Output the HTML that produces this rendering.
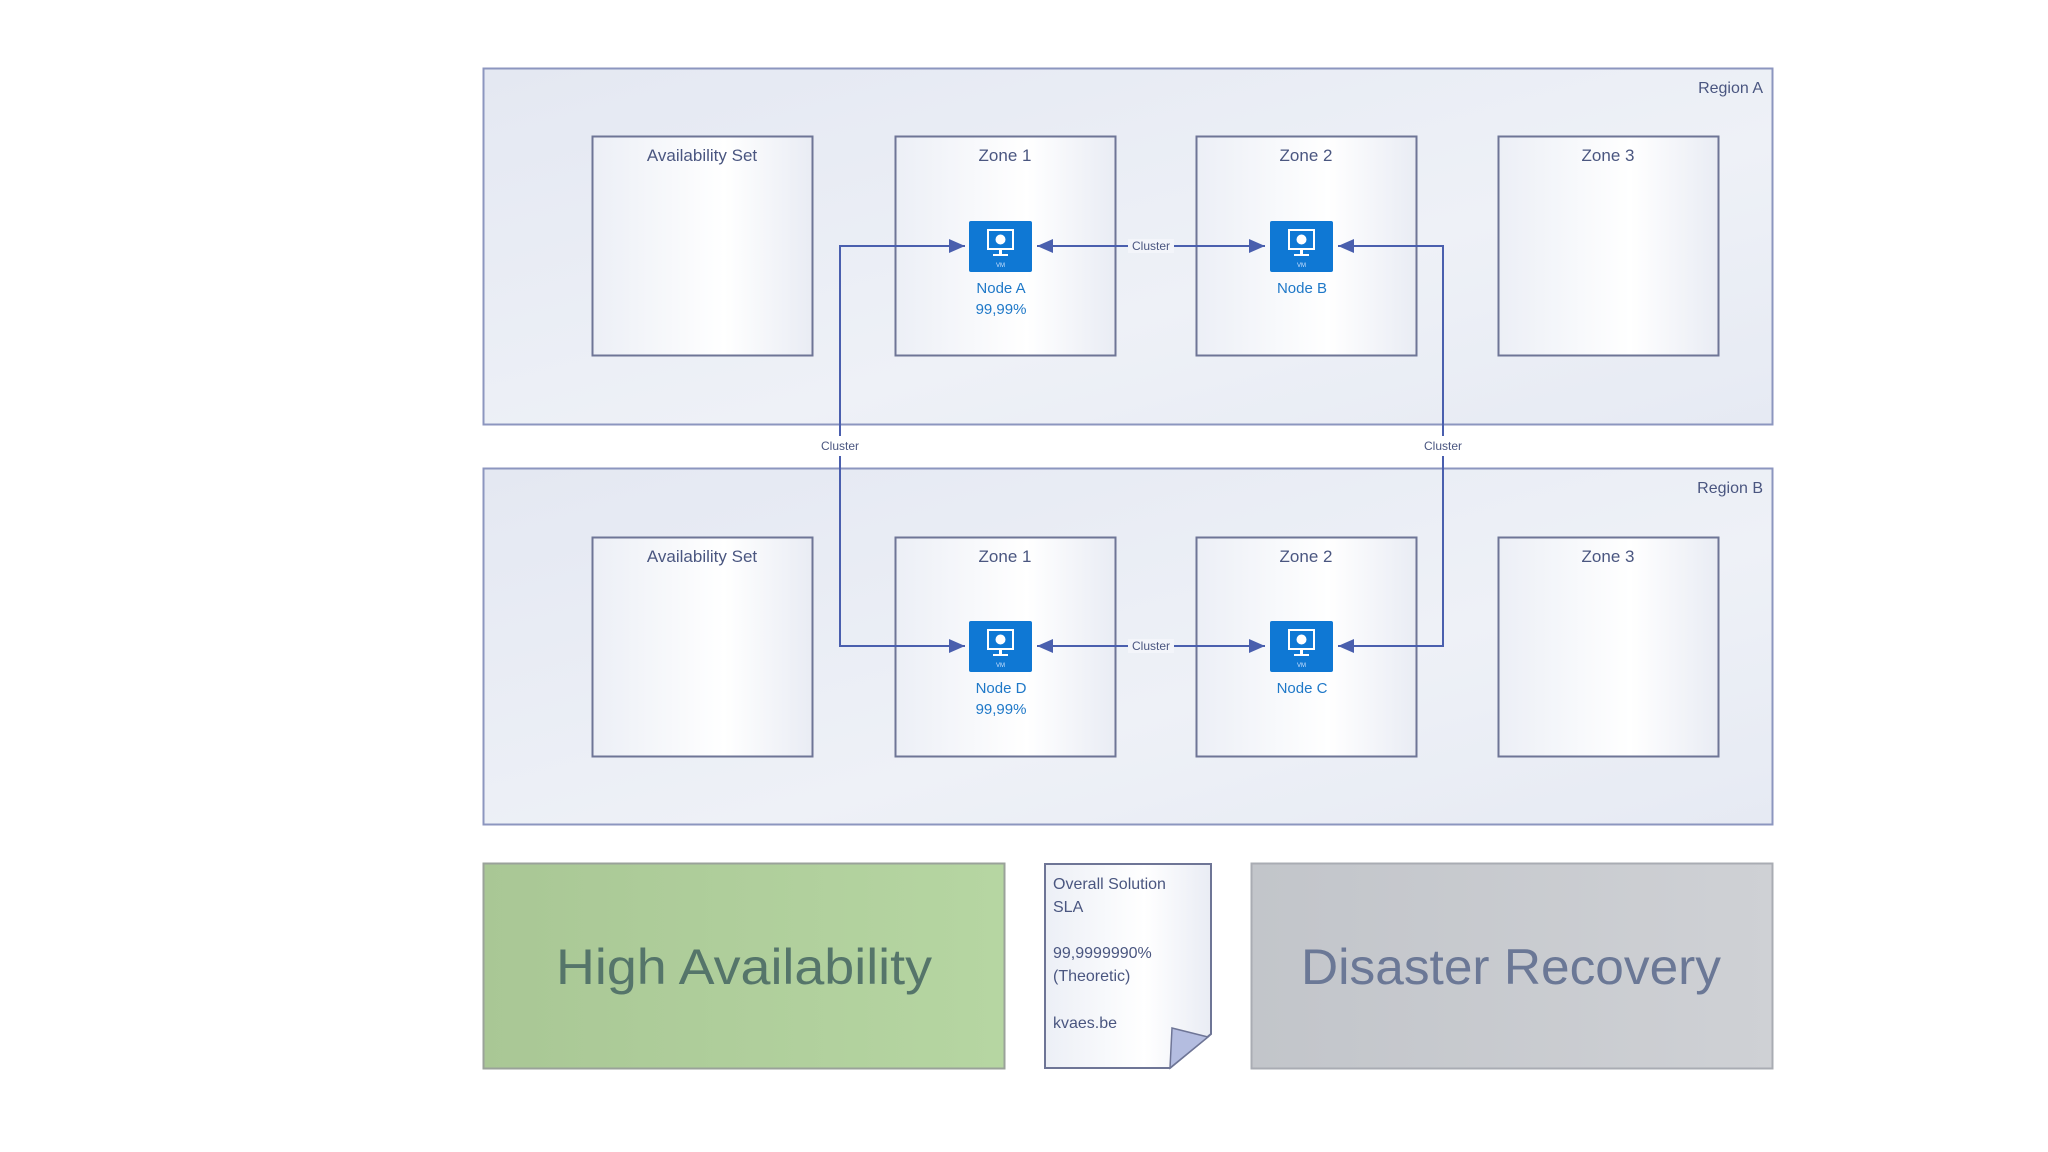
<!DOCTYPE html>
<html><head><meta charset="utf-8"><style>
html,body{margin:0;padding:0;background:#fff;width:2048px;height:1152px;overflow:hidden}
svg{display:block;font-family:"Liberation Sans",sans-serif}
</style></head><body>
<svg width="2048" height="1152" viewBox="0 0 2048 1152" xmlns="http://www.w3.org/2000/svg">
<defs>
<linearGradient id="reg" x1="0" y1="0" x2="1" y2="1">
<stop offset="0" stop-color="#e4e8f2"/><stop offset="0.6" stop-color="#eef1f7"/><stop offset="1" stop-color="#e6eaf3"/></linearGradient>
<linearGradient id="box" x1="0" y1="0" x2="1" y2="0">
<stop offset="0" stop-color="#eceff6"/><stop offset="0.6" stop-color="#ffffff"/><stop offset="1" stop-color="#e9ecf4"/></linearGradient>
<linearGradient id="ha" x1="0" y1="0" x2="1" y2="0">
<stop offset="0" stop-color="#a9c795"/><stop offset="1" stop-color="#b6d6a2"/></linearGradient>
<linearGradient id="dr" x1="0" y1="0" x2="1" y2="0">
<stop offset="0" stop-color="#c2c5ca"/><stop offset="1" stop-color="#cfd1d5"/></linearGradient>
<marker id="ar" markerWidth="16" markerHeight="14" refX="16" refY="7" orient="auto-start-reverse" markerUnits="userSpaceOnUse" viewBox="0 0 16 14">
<path d="M0,0 L16,7 L0,14 z" fill="#4a5fae"/></marker>
<g id="vm">
<rect x="0" y="0" width="63" height="51" rx="2" fill="#0f78d4"/>
<rect x="19" y="9" width="25" height="19" fill="none" stroke="#fff" stroke-width="2"/>
<circle cx="31.5" cy="18.5" r="5" fill="#fff"/>
<rect x="30" y="28" width="3" height="5" fill="#fff"/>
<rect x="24" y="33" width="15" height="2" fill="#fff"/>
<text x="31.5" y="46" font-size="6" fill="#cfe4ff" text-anchor="middle">VM</text>
</g>
</defs>

<rect x="483.5" y="68.5" width="1289" height="356" fill="url(#reg)" stroke="#8c96bf" stroke-width="2"/>
<rect x="483.5" y="468.5" width="1289" height="356" fill="url(#reg)" stroke="#8c96bf" stroke-width="2"/>
<text x="1763" y="93" font-size="16" fill="#4a5680" text-anchor="end">Region A</text>
<text x="1763" y="493" font-size="16" fill="#4a5680" text-anchor="end">Region B</text>

<g stroke="#6e7596" stroke-width="2" fill="url(#box)">
<rect x="592.5" y="136.5" width="220" height="219"/>
<rect x="895.5" y="136.5" width="220" height="219"/>
<rect x="1196.5" y="136.5" width="220" height="219"/>
<rect x="1498.5" y="136.5" width="220" height="219"/>
<rect x="592.5" y="537.5" width="220" height="219"/>
<rect x="895.5" y="537.5" width="220" height="219"/>
<rect x="1196.5" y="537.5" width="220" height="219"/>
<rect x="1498.5" y="537.5" width="220" height="219"/>
</g>
<g font-size="17" fill="#4a5680" text-anchor="middle">
<text x="702" y="161">Availability Set</text>
<text x="1005" y="161">Zone 1</text>
<text x="1306" y="161">Zone 2</text>
<text x="1608" y="161">Zone 3</text>
<text x="702" y="562">Availability Set</text>
<text x="1005" y="562">Zone 1</text>
<text x="1306" y="562">Zone 2</text>
<text x="1608" y="562">Zone 3</text>
</g>

<g stroke="#4a5fae" stroke-width="2" fill="none">
<line x1="1037" y1="246" x2="1265" y2="246" marker-start="url(#ar)" marker-end="url(#ar)"/>
<line x1="1037" y1="646" x2="1265" y2="646" marker-start="url(#ar)" marker-end="url(#ar)"/>
<polyline points="840,436 840,246 965,246" marker-end="url(#ar)"/>
<polyline points="840,456 840,646 965,646" marker-end="url(#ar)"/>
<polyline points="1443,436 1443,246 1338,246" marker-end="url(#ar)"/>
<polyline points="1443,456 1443,646 1338,646" marker-end="url(#ar)"/>
</g>
<rect x="1128" y="239" width="46" height="14" fill="#f3f5fa"/>
<rect x="1128" y="639" width="46" height="14" fill="#f3f5fa"/>
<g font-size="12" fill="#4a5680" text-anchor="middle">
<text x="1151" y="250">Cluster</text>
<text x="1151" y="650">Cluster</text>
<text x="840" y="450">Cluster</text>
<text x="1443" y="450">Cluster</text>
</g>

<use href="#vm" x="969" y="221"/>
<use href="#vm" x="1270" y="221"/>
<use href="#vm" x="969" y="621"/>
<use href="#vm" x="1270" y="621"/>
<g font-size="15" fill="#1e78c8" text-anchor="middle">
<text x="1001" y="293">Node A</text>
<text x="1001" y="314">99,99%</text>
<text x="1302" y="293">Node B</text>
<text x="1001" y="693">Node D</text>
<text x="1001" y="714">99,99%</text>
<text x="1302" y="693">Node C</text>
</g>

<rect x="483.5" y="863.5" width="521" height="205" fill="url(#ha)" stroke="#9aa29a" stroke-width="2"/>
<text x="744" y="984" font-size="50" fill="#55756a" text-anchor="middle" textLength="376" lengthAdjust="spacingAndGlyphs">High Availability</text>
<rect x="1251.5" y="863.5" width="521" height="205" fill="url(#dr)" stroke="#a9acb3" stroke-width="2"/>
<text x="1511" y="984" font-size="50" fill="#6b7896" text-anchor="middle" textLength="420" lengthAdjust="spacingAndGlyphs">Disaster Recovery</text>

<path d="M1045,864 L1211,864 L1211,1034 L1170,1068 L1045,1068 Z" fill="url(#box)" stroke="#6e7596" stroke-width="2"/>
<path d="M1172,1028 L1208,1037 L1170,1068 Z" fill="#b4bde0" stroke="#6e7596" stroke-width="1.5"/>
<g font-size="16" fill="#4a5680">
<text x="1053" y="889">Overall Solution</text>
<text x="1053" y="912">SLA</text>
<text x="1053" y="958">99,9999990%</text>
<text x="1053" y="981">(Theoretic)</text>
<text x="1053" y="1028">kvaes.be</text>
</g>
</svg>
</body></html>
